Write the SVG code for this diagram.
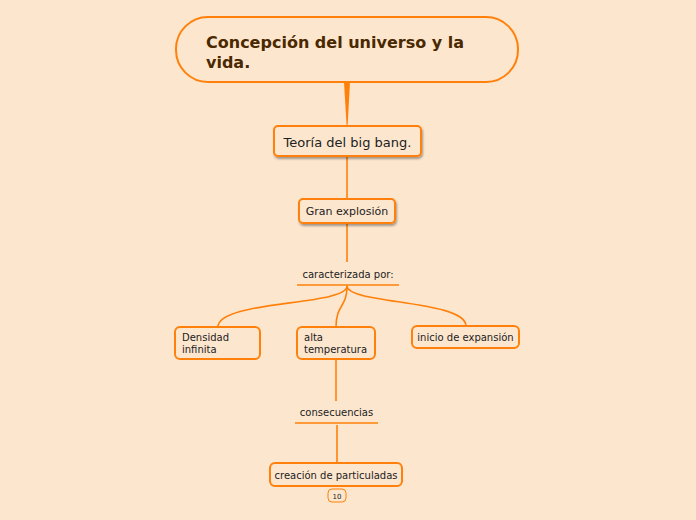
<svg xmlns="http://www.w3.org/2000/svg" width="696" height="520" viewBox="0 0 696 520">
<defs>
<filter id="sh" x="-20%" y="-20%" width="140%" height="160%">
<feDropShadow dx="1" dy="2" stdDeviation="1.2" flood-color="#000" flood-opacity="0.35"/>
</filter>
</defs>
<style>
.bx{fill:#FDE6CE;stroke:#FF800A;stroke-width:2}
.ln{fill:none;stroke:#FF800A;stroke-width:1.6}
.t{font-family:"DejaVu Sans",Verdana,sans-serif;fill:#222}
</style>
<rect width="696" height="520" fill="#FDE6CE"/>
<g id="connectors">
<path d="M344,82 L350,82 L347.6,126 L346.6,126 Z" fill="#FF800A"/>
<path class="ln" d="M347,156 L347,199"/>
<path class="ln" d="M347,223 L347,262"/>
<path class="ln" d="M297,285 L399,285"/>
<path class="ln" d="M347,286 C347,306 218,300 218,327"/>
<path class="ln" d="M347,286 C347,308 336,304 336,327"/>
<path class="ln" d="M347,286 C347,304 466,300 466,326"/>
<path class="ln" d="M336,359 L336,401"/>
<path class="ln" d="M295,423 L378,423"/>
<path class="ln" d="M337,425 L337,463"/>
</g>
<g id="root">
<rect class="bx" x="176" y="17" width="342" height="65" rx="32" stroke-width="2.5"/>
<text class="t" x="206" y="48" font-size="16" font-weight="bold" fill="#4A2800" style="fill:#4A2800">Concepción del universo y la</text>
<text class="t" x="206" y="68" font-size="16" font-weight="bold" style="fill:#4A2800">vida.</text>
</g>
<g id="teoria">
<rect class="bx" x="274" y="126" width="147" height="30" rx="4" stroke-width="2.5" filter="url(#sh)"/>
<text class="t" x="347.5" y="147" font-size="13" text-anchor="middle">Teoría del big bang.</text>
</g>
<g id="gran">
<rect class="bx" x="299" y="199" width="96" height="24" rx="4" filter="url(#sh)"/>
<text class="t" x="347" y="215" font-size="11" text-anchor="middle">Gran explosión</text>
</g>
<g id="caracterizada">
<text class="t" x="348" y="278" font-size="10" text-anchor="middle">caracterizada por:</text>
</g>
<g id="densidad">
<rect class="bx" x="175" y="327" width="85" height="32" rx="5"/>
<text class="t" x="182" y="341" font-size="10">Densidad</text>
<text class="t" x="182" y="353" font-size="10">infinita</text>
</g>
<g id="alta">
<rect class="bx" x="297" y="327" width="78" height="32" rx="5"/>
<text class="t" x="304" y="341" font-size="10">alta</text>
<text class="t" x="304" y="353" font-size="10">temperatura</text>
</g>
<g id="inicio">
<rect class="bx" x="412" y="326" width="107" height="22" rx="5"/>
<text class="t" x="465.5" y="341" font-size="10" text-anchor="middle">inicio de expansión</text>
</g>
<g id="consecuencias">
<text class="t" x="336.5" y="416" font-size="10" text-anchor="middle">consecuencias</text>
</g>
<g id="creacion">
<rect class="bx" x="270" y="463" width="132" height="23" rx="5"/>
<text class="t" x="336" y="479" font-size="10" text-anchor="middle">creación de particuladas</text>
</g>
<g id="badge">
<rect x="328" y="489" width="18" height="13" rx="4" fill="#FDE6CE" stroke="#FF800A" stroke-width="1"/>
<text class="t" x="337" y="498.5" font-size="7" text-anchor="middle">10</text>
</g>
</svg>
